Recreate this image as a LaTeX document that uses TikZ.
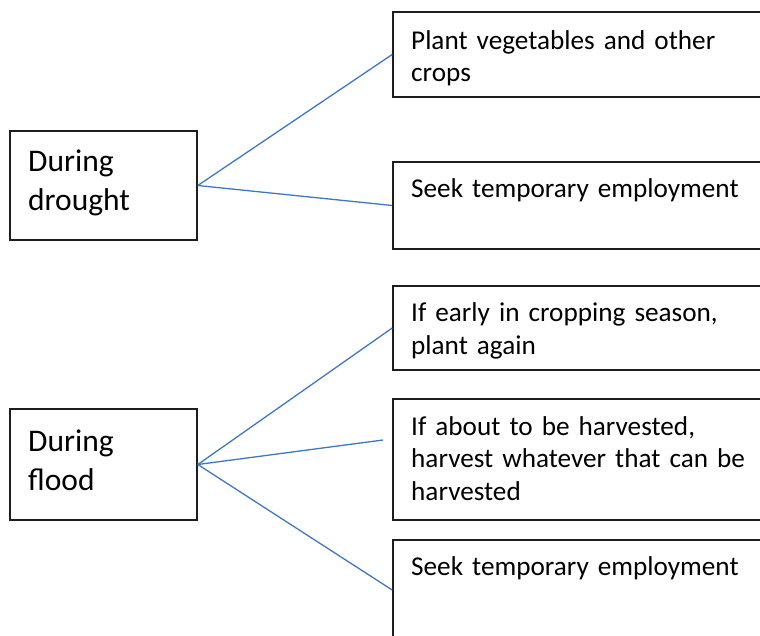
\documentclass[tikz,border=0pt]{standalone}
\usepackage{fontspec}
\setmainfont{Carlito}
\definecolor{linkblue}{RGB}{62,120,196}
\definecolor{boxline}{RGB}{30,30,30}
\tikzset{
  box/.style={draw=boxline, line width=1.6pt, rectangle, inner sep=0pt, minimum width=#1},
  box/.default=187pt,
  rtext/.style={anchor=base west, inner sep=0pt, text width=340pt, align=left, font=\fontsize{27.2}{32.5}\selectfont},
  ltext/.style={anchor=base west, inner sep=0pt, text width=160pt, align=left, font=\fontsize{31.5}{38.5}\selectfont},
  link/.style={draw=linkblue, line width=1.3pt}
}
\begin{document}
\begin{tikzpicture}[x=1pt,y=-1pt]
\useasboundingbox (0,0) rectangle (760,635);
\clip (0,0) rectangle (760,635);
% left boxes
\node[box=187pt, minimum height=109pt] (drought) at (103.5,185.5) {};
\node[box=187pt, minimum height=111pt] (flood) at (103.5,464.5) {};
% right boxes
\node[box=387pt, minimum height=85pt] (plant) at (586.5,54.5) {};
\node[box=387pt, minimum height=87pt] (seek1) at (586.5,205.5) {};
\node[box=387pt, minimum height=84pt] (early) at (586.5,328) {};
\node[box=387pt, minimum height=121pt] (harvest) at (586.5,459.5) {};
\node[box=387pt, minimum height=100pt] (seek2) at (586.5,590) {};
% texts
\node[ltext] (tdrought) at (28,171.5) {During\\drought};
\node[ltext] (tflood) at (28,451.5) {During\\flood};
\node[rtext] (tplant) at (411,49) {Plant vegetables and other\\crops};
\node[rtext] (tseek1) at (411,197) {Seek temporary employment};
\node[rtext] (tearly) at (411,321.5) {If early in cropping season,\\plant again};
\node[rtext] (tharvest) at (411,435) {If about to be harvested,\\harvest whatever that can be\\harvested};
\node[rtext] (tseek2) at (411,575.5) {Seek temporary employment};
% connectors
\coordinate (hend) at (383,440);
\draw[link] (drought.east) -- (plant.west);
\draw[link] (drought.east) -- (seek1.west);
\draw[link] (flood.east) -- (early.west);
\draw[link] (flood.east) -- (hend);
\draw[link] (flood.east) -- (seek2.west);
\end{tikzpicture}
\end{document}
